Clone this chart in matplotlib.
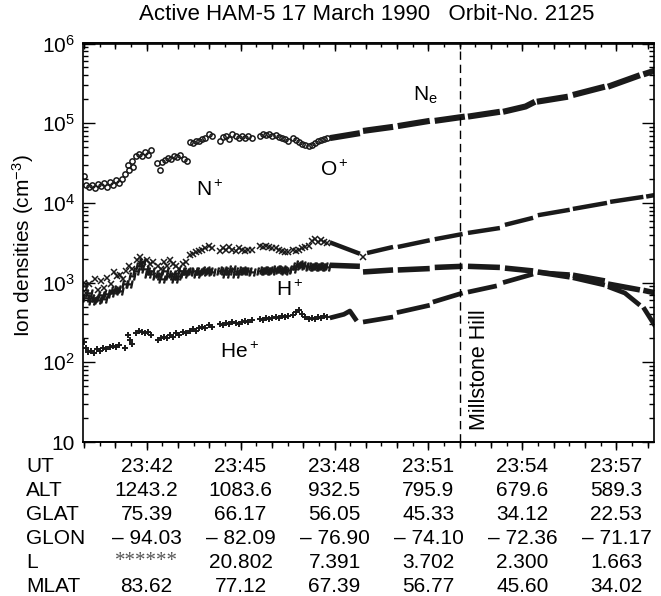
import matplotlib
matplotlib.use('Agg')
import matplotlib.pyplot as plt
import matplotlib.transforms as mtransforms
from matplotlib.ticker import MultipleLocator, LogLocator, FixedLocator, FixedFormatter, NullFormatter

plt.rcParams['font.family'] = ['Liberation Sans', 'DejaVu Sans']
plt.rcParams['mathtext.fontset'] = 'custom'
plt.rcParams['mathtext.rm'] = 'Liberation Sans'
plt.rcParams['mathtext.it'] = 'Liberation Sans:italic'
plt.rcParams['mathtext.bf'] = 'Liberation Sans:bold'

nan = float('nan')

# ---------------- data (time in minutes after 23:00 UT, densities in cm^-3) ----------------
# Ne / O+ : individual samples (early part of the pass)
ne_t = [40.00, 40.06, 40.16, 40.25, 40.35, 40.44, 40.54, 40.64, 40.73, 40.83, 40.93, 41.02, 41.12, 41.22,
        41.31, 41.40, 41.45, 41.52, 41.58, 41.66, 41.75, 41.85, 41.95, 42.05, 42.15,
        42.33, 42.42, 42.50, 42.58, 42.68, 42.78, 42.88, 42.98, 43.08, 43.18, 43.28,
        43.38, 43.48, 43.58, 43.68, 43.78, 43.88, 43.98, 44.08,
        44.34, 44.44, 44.54, 44.64, 44.74, 44.84, 44.94, 45.04, 45.14, 45.24, 45.36,
        45.62, 45.72, 45.82, 45.92, 46.02, 46.12, 46.22, 46.32, 46.42, 46.52,
        46.67, 46.77, 46.87, 46.97, 47.07, 47.17, 47.27, 47.37, 47.47, 47.57, 47.67, 47.77]
ne_v = [2.2e4, 1.7e4, 1.6e4, 1.7e4, 1.55e4, 1.75e4, 1.65e4, 1.8e4, 1.6e4, 1.85e4, 1.7e4, 1.95e4, 1.8e4, 2.0e4,
        2.3e4, 3.0e4, 2.6e4, 3.4e4, 2.8e4, 3.9e4, 4.1e4, 3.9e4, 4.3e4, 4.0e4, 4.6e4,
        3.2e4, 2.6e4, 3.3e4, 3.5e4, 3.7e4, 3.6e4, 3.9e4, 3.8e4, 4.0e4, 3.6e4, 3.4e4,
        5.8e4, 5.6e4, 6.0e4, 5.9e4, 6.3e4, 6.6e4, 7.4e4, 7.0e4,
        6.0e4, 6.8e4, 7.0e4, 6.3e4, 7.4e4, 6.9e4, 6.5e4, 7.0e4, 6.6e4, 6.9e4, 6.5e4,
        6.9e4, 7.3e4, 7.1e4, 7.3e4, 6.9e4, 7.1e4, 6.8e4, 6.6e4, 6.4e4, 6.0e4,
        6.5e4, 6.1e4, 5.8e4, 5.5e4, 5.4e4, 5.2e4, 5.4e4, 5.6e4, 5.9e4, 6.1e4, 6.3e4, 6.5e4]
# Ne / O+ : dense data blocks (later part), blocks separated by nan
ne_blk_t = [47.85, 48.81, nan, 48.91, 49.87, nan, 50.02, 51.04, nan, 51.20, 52.16, nan,
            52.26, 53.28, nan, 53.38, 54.10, 54.40, nan, 54.46, 55.45, nan, 55.61, 56.63, nan,
            56.73, 57.75, nan, 57.86, 58.25]
ne_blk_v = [6.5e4, 7.5e4, nan, 8.0e4, 9.0e4, nan, 9.2e4, 1.07e5, nan, 1.07e5, 1.21e5, nan,
            1.21e5, 1.39e5, nan, 1.39e5, 1.62e5, 1.86e5, nan, 1.86e5, 2.15e5, nan, 2.26e5, 2.87e5, nan,
            2.87e5, 4.0e5, nan, 4.1e5, 4.6e5]

# N+
np_t = [40.00, 40.08, 40.17, 40.26, 40.35, 40.45, 40.55, 40.65, 40.75, 40.85, 40.95, 41.05, 41.15, 41.25,
        41.35, 41.45, 41.55, 41.70, 41.80, 41.90, 42.00, 42.10, 42.20,
        42.35, 42.45, 42.55, 42.65, 42.75, 42.85, 42.95, 43.05, 43.15, 43.25,
        43.38, 43.48, 43.58, 43.68, 43.78, 43.88, 43.98, 44.08,
        44.34, 44.44, 44.54, 44.64, 44.74, 44.84, 44.94, 45.04, 45.14, 45.24, 45.36,
        45.62, 45.72, 45.82, 45.92, 46.02, 46.12, 46.22, 46.32, 46.42, 46.52,
        46.67, 46.77, 46.87, 46.97, 47.07, 47.17, 47.27, 47.37, 47.47, 47.57, 47.67, 47.77, 48.91]
np_v = [1.0e3, 7.5e2, 9.5e2, 6.5e2, 1.1e3, 8.0e2, 1.05e3, 8.5e2, 1.15e3, 9.5e2, 1.35e3, 1.2e3, 1.25e3, 1.1e3,
        1.4e3, 1.6e3, 1.5e3, 1.9e3, 2.1e3, 1.8e3, 1.9e3, 1.7e3, 1.8e3,
        1.6e3, 1.5e3, 1.8e3, 1.6e3, 1.9e3, 1.7e3, 1.6e3, 1.5e3, 1.7e3, 1.8e3,
        2.2e3, 2.3e3, 2.4e3, 2.5e3, 2.6e3, 2.7e3, 2.9e3, 2.7e3,
        2.5e3, 2.7e3, 2.6e3, 2.8e3, 2.6e3, 2.5e3, 2.7e3, 2.6e3, 2.5e3, 2.6e3, 2.6e3,
        2.9e3, 2.8e3, 2.9e3, 2.8e3, 2.7e3, 2.7e3, 2.6e3, 2.5e3, 2.4e3, 2.4e3,
        2.6e3, 2.5e3, 2.6e3, 2.7e3, 2.8e3, 2.9e3, 3.3e3, 3.5e3, 3.2e3, 3.4e3, 3.2e3, 3.1e3, 2.1e3]
np_blk_t = [47.85, 48.81, nan, 49.04, 49.87, nan, 50.02, 51.04, nan, 51.20, 52.09, nan,
            52.26, 53.28, nan, 53.44, 54.34, nan, 54.49, 55.51, nan, 55.61, 56.70, nan,
            56.80, 57.86, nan, 57.95, 58.25]
np_blk_v = [3.2e3, 2.3e3, nan, 2.35e3, 2.8e3, nan, 2.8e3, 3.4e3, nan, 3.5e3, 4.07e3, nan,
            4.2e3, 4.84e3, nan, 5.3e3, 6.5e3, nan, 7.0e3, 8.2e3, nan, 8.4e3, 1.0e4, nan,
            1.03e4, 1.19e4, nan, 1.2e4, 1.26e4]

# H+
hp_t = [40.00, 40.08, 40.17, 40.26, 40.35, 40.45, 40.55, 40.65, 40.75, 40.85, 40.95, 41.05, 41.15,
        41.30, 41.45, 41.55, 41.65, 41.75, 41.85, 41.95, 42.05, 42.15,
        42.30, 42.40, 42.50, 42.60, 42.70, 42.80, 42.90, 43.00, 43.10, 43.20,
        43.30, 43.40, 43.50, 43.60, 43.70, 43.80, 43.90, 44.00, 44.10,
        44.34, 44.44, 44.54, 44.64, 44.74, 44.84, 44.94, 45.04, 45.14, 45.24, 45.36,
        45.62, 45.72, 45.82, 45.92, 46.02, 46.12, 46.22, 46.32, 46.42, 46.52,
        46.67, 46.77, 46.87, 46.97, 47.07, 47.17, 47.27, 47.37, 47.47, 47.57, 47.67, 47.77]
hp_v = [9.0e2, 6.5e2, 7.5e2, 5.8e2, 6.5e2, 6.0e2, 7.0e2, 6.2e2, 7.2e2, 7.5e2, 8.0e2, 8.2e2, 7.8e2,
        9.5e2, 9.6e2, 1.2e3, 1.4e3, 1.6e3, 1.8e3, 1.5e3, 1.3e3, 1.4e3,
        1.2e3, 1.3e3, 1.1e3, 1.4e3, 1.2e3, 1.3e3, 1.1e3, 1.2e3, 1.4e3, 1.3e3,
        1.4e3, 1.35e3, 1.4e3, 1.3e3, 1.4e3, 1.35e3, 1.45e3, 1.4e3, 1.35e3,
        1.4e3, 1.45e3, 1.3e3, 1.4e3, 1.5e3, 1.3e3, 1.4e3, 1.45e3, 1.4e3, 1.4e3, 1.35e3,
        1.4e3, 1.45e3, 1.4e3, 1.45e3, 1.4e3, 1.5e3, 1.45e3, 1.5e3, 1.4e3, 1.45e3,
        1.5e3, 1.6e3, 1.7e3, 1.65e3, 1.6e3, 1.55e3, 1.6e3, 1.55e3, 1.6e3, 1.55e3, 1.6e3, 1.55e3]
hp_blk_t = [47.85, 48.81, nan, 48.91, 49.87, nan, 50.02, 51.04, nan, 51.20, 52.09, nan,
            52.26, 53.28, nan, 53.44, 54.34, nan, 54.49, 55.51, nan, 55.61, 56.63, nan,
            56.73, 57.75, nan, 57.86, 58.25]
hp_blk_v = [1.65e3, 1.6e3, nan, 1.36e3, 1.44e3, nan, 1.44e3, 1.5e3, nan, 1.55e3, 1.6e3, nan,
            1.6e3, 1.55e3, nan, 1.52e3, 1.4e3, nan, 1.36e3, 1.18e3, nan, 1.24e3, 1.05e3, nan,
            9.6e2, 8.1e2, nan, 8.0e2, 7.4e2]

# He+
he_t = [40.00, 40.06, 40.13, 40.22, 40.32, 40.42, 40.52, 40.62, 40.72, 40.82, 40.92, 41.02, 41.12,
        41.31, 41.40, 41.47, 41.55, 41.65, 41.75, 41.85, 41.95, 42.05, 42.15,
        42.35, 42.45, 42.55, 42.65, 42.75, 42.85, 42.95, 43.05, 43.15, 43.25,
        43.38, 43.48, 43.58, 43.68, 43.78, 43.88, 43.98, 44.08,
        44.34, 44.44, 44.54, 44.64, 44.74, 44.84, 44.94, 45.04, 45.14, 45.24, 45.36,
        45.62, 45.72, 45.82, 45.92, 46.02, 46.12, 46.22, 46.32, 46.42, 46.52,
        46.67, 46.77, 46.87, 46.97, 47.07, 47.17, 47.27, 47.37, 47.47, 47.57, 47.67, 47.77]
he_v = [1.8e2, 1.5e2, 1.35e2, 1.4e2, 1.3e2, 1.45e2, 1.4e2, 1.5e2, 1.45e2, 1.55e2, 1.6e2, 1.55e2, 1.65e2,
        1.5e2, 2.2e2, 1.9e2, 1.7e2, 2.3e2, 2.5e2, 2.4e2, 2.3e2, 2.4e2, 2.2e2,
        1.9e2, 2.0e2, 2.1e2, 2.0e2, 2.2e2, 2.1e2, 2.3e2, 2.2e2, 2.4e2, 2.3e2,
        2.5e2, 2.6e2, 2.5e2, 2.7e2, 2.8e2, 2.7e2, 2.9e2, 2.8e2,
        3.0e2, 2.9e2, 3.1e2, 3.0e2, 3.2e2, 3.1e2, 3.0e2, 3.2e2, 3.3e2, 3.2e2, 3.4e2,
        3.5e2, 3.4e2, 3.6e2, 3.5e2, 3.6e2, 3.7e2, 3.6e2, 3.8e2, 3.7e2, 3.8e2,
        3.9e2, 4.3e2, 4.5e2, 4.0e2, 3.7e2, 3.5e2, 3.6e2, 3.5e2, 3.7e2, 3.6e2, 3.8e2, 3.7e2]
he_blk_t = [47.85, 48.30, 48.49, 48.71, nan, 48.91, 49.87, nan, 49.99, 51.04, nan, 51.14, 52.09, nan,
            52.26, 53.18, nan, 53.38, 54.34, nan, 54.49, 55.51, nan, 55.61, 56.63, nan,
            56.73, 57.27, 57.75, nan, 57.86, 58.25]
he_blk_v = [3.6e2, 4.0e2, 4.4e2, 3.3e2, nan, 3.2e2, 3.7e2, nan, 4.2e2, 5.2e2, nan, 5.7e2, 7.4e2, nan,
            7.6e2, 9.1e2, nan, 1.0e3, 1.28e3, nan, 1.34e3, 1.26e3, nan, 1.15e3, 9.3e2, nan,
            8.9e2, 7.4e2, 5.2e2, nan, 4.9e2, 2.8e2]

millstone_t = 52.0

# table below the plot
ut_ticks = [42, 45, 48, 51, 54, 57]
row_names = ['UT', 'ALT', 'GLAT', 'GLON', 'L', 'MLAT']
ut_labels = ['23:42', '23:45', '23:48', '23:51', '23:54', '23:57']
alt_labels = ['1243.2', '1083.6', '932.5', '795.9', '679.6', '589.3']
glat_labels = ['75.39', '66.17', '56.05', '45.33', '34.12', '22.53']
glon_labels = ['\u2013 94.03', '\u2013 82.09', '\u2013 76.90', '\u2013 74.10', '\u2013 72.36', '\u2013 71.17']
l_labels = ['******', '20.802', '7.391', '3.702', '2.300', '1.663']
mlat_labels = ['83.62', '77.12', '67.39', '56.77', '45.60', '34.02']

# ---------------- figure ----------------
W, H = 661, 596
fig = plt.figure(figsize=(W / 100, H / 100), dpi=100)
ax_l, ax_r, ax_t, ax_b = 83, 654, 43.5, 442
ax = fig.add_axes([ax_l / W, 1 - ax_b / H, (ax_r - ax_l) / W, (ax_b - ax_t) / H])
ink = '#1a1a1a'

ax.set_yscale('log')
ax.set_ylim(10, 1e6)
ax.set_xlim(39.97, 58.2)

# early samples as symbols
ax.plot(ne_t, ne_v, ls='none', marker='o', ms=3.8, mfc='none', mec=ink, mew=1.1)
ax.plot(np_t, np_v, ls='none', marker='x', ms=4.0, mec=ink, mew=1.1)
ax.plot(hp_t, hp_v, ls='none', marker='$H$', ms=5.0, color=ink)
ax.plot(he_t, he_v, ls='none', marker='+', ms=4.0, mec=ink, mew=1.4)
# dense later blocks
ax.plot(ne_blk_t, ne_blk_v, color=ink, lw=4.4, solid_capstyle='butt')
ax.plot(np_blk_t, np_blk_v, color=ink, lw=3.2, solid_capstyle='butt')
ax.plot(hp_blk_t, hp_blk_v, color=ink, lw=4.0, solid_capstyle='butt')
ax.plot(he_blk_t, he_blk_v, color=ink, lw=3.4, solid_capstyle='butt')

ax.axvline(millstone_t, color='black', lw=1.0, dashes=(6, 3.5))

# y axis
yt = [10, 1e2, 1e3, 1e4, 1e5, 1e6]
ax.yaxis.set_major_locator(FixedLocator(yt))
ax.yaxis.set_major_formatter(FixedFormatter(['10', '10$^2$', '10$^3$', '10$^4$', '10$^5$', '10$^6$']))
ax.yaxis.set_minor_locator(LogLocator(base=10, subs=[2, 3, 4, 5, 6, 7, 8, 9], numticks=20))
ax.yaxis.set_minor_formatter(NullFormatter())
ax.tick_params(axis='y', which='both', direction='in', left=True, right=True, labelsize=15, width=1.0, pad=6)
ax.tick_params(axis='y', which='major', length=8.5)
ax.tick_params(axis='y', which='minor', length=3.6)

# x axis (bottom, outward)
ax.xaxis.set_major_locator(MultipleLocator(3))
ax.xaxis.set_minor_locator(MultipleLocator(0.5))
ax.tick_params(axis='x', which='both', direction='out', labelbottom=False, width=1.0)
ax.tick_params(axis='x', which='major', length=5.5)
ax.tick_params(axis='x', which='minor', length=2.6)
sb = ax.secondary_xaxis('bottom')
sb.xaxis.set_major_locator(MultipleLocator(1))
sb.xaxis.set_minor_locator(MultipleLocator(100))
sb.tick_params(axis='x', which='major', direction='out', length=4.0, width=1.0, labelbottom=False)
sb.spines['bottom'].set_linewidth(1.2)
# top (inward)
st = ax.secondary_xaxis('top')
st.xaxis.set_major_locator(MultipleLocator(3))
st.xaxis.set_minor_locator(MultipleLocator(0.5))
st.tick_params(axis='x', which='both', direction='in', width=1.0, labeltop=False)
st.tick_params(axis='x', which='major', length=5.5)
st.tick_params(axis='x', which='minor', length=2.6)
st.spines['top'].set_linewidth(1.2)
st2 = ax.secondary_xaxis('top')
st2.xaxis.set_major_locator(MultipleLocator(1))
st2.xaxis.set_minor_locator(MultipleLocator(100))
st2.tick_params(axis='x', which='major', direction='in', length=4.0, width=1.0, labeltop=False)
st2.spines['top'].set_linewidth(1.2)
for s in ax.spines.values():
    s.set_linewidth(1.2)

# species labels
fs = 15
ax.text(50.91, 2.26e5, 'N$_\\mathrm{e}$', fontsize=fs, ha='center', va='center')
ax.text(48.01, 2.6e4, 'O$^+$', fontsize=fs, ha='center', va='center')
ax.text(44.02, 1.45e4, 'N$^+$', fontsize=fs, ha='center', va='center')
ax.text(46.58, 8.1e2, 'H$^+$', fontsize=fs, ha='center', va='center')
ax.text(44.98, 1.35e2, 'He$^+$', fontsize=fs, ha='center', va='center')
ax.text(52.62, 82, 'Millstone Hill', fontsize=15.5, rotation=90, ha='center', va='center')

fig.text(367 / W, 1 - 15 / H, 'Active HAM-5 17 March 1990   Orbit-No. 2125', fontsize=16,
         ha='center', va='center')
fig.text(23 / W, 1 - 246 / H, 'Ion densities (cm$^{-3}$)', fontsize=15, rotation=90,
         ha='center', va='center')

# table
tr = mtransforms.blended_transform_factory(ax.transData, fig.transFigure)
rows_y = [466.5, 490.5, 514.5, 538.5, 562.5, 586.5]
rows = [ut_labels, alt_labels, glat_labels, glon_labels, l_labels, mlat_labels]
for name, yy, vals in zip(row_names, rows_y, rows):
    fig.text(26 / W, 1 - yy / H, name, fontsize=fs, ha='left', va='center')
    for xt, s in zip(ut_ticks, vals):
        if set(s) == {'*'}:
            ax.text(xt, 1 - (yy - 1) / H, s, transform=tr, fontsize=fs, ha='center', va='center',
                    family=['Liberation Serif', 'DejaVu Serif'], color='#555555', clip_on=False)
        else:
            ax.text(xt, 1 - yy / H, s, transform=tr, fontsize=fs, ha='center', va='center', clip_on=False)

fig.savefig('out.png', dpi=100)
